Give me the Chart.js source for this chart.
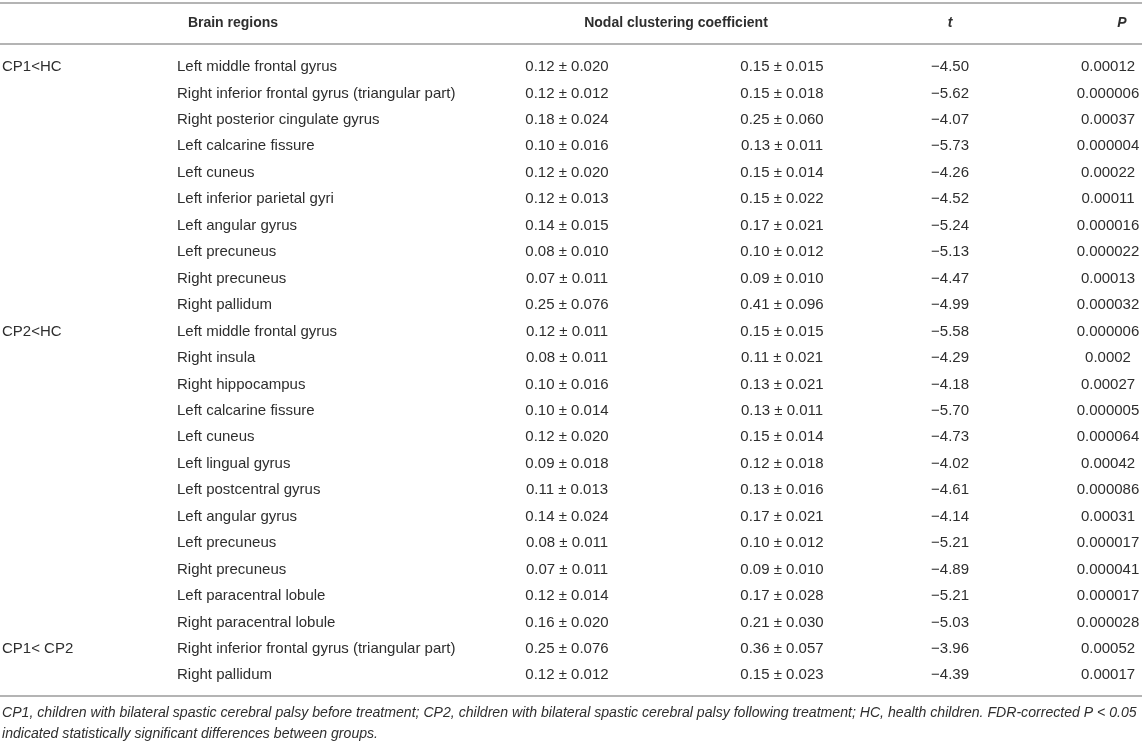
<!DOCTYPE html>
<html>
<head>
<meta charset="utf-8">
<script src="https://cdn.jsdelivr.net/npm/chart.js@4.4.1/dist/chart.umd.min.js"></script>
<style>
  html, body { margin: 0; padding: 0; background: #fff; }
  #wrap { width: 1142px; height: 743px; position: relative; }
</style>
</head>
<body>
<div id="wrap"><canvas id="tableChart"></canvas></div>
<script>
const groupLabels = ['CP1<HC', 'CP2<HC', 'CP1< CP2'];
const groupStartRows = [0, 10, 22];

const regions = [
    'Left middle frontal gyrus',
    'Right inferior frontal gyrus (triangular part)',
    'Right posterior cingulate gyrus',
    'Left calcarine fissure',
    'Left cuneus',
    'Left inferior parietal gyri',
    'Left angular gyrus',
    'Left precuneus',
    'Right precuneus',
    'Right pallidum',
    'Left middle frontal gyrus',
    'Right insula',
    'Right hippocampus',
    'Left calcarine fissure',
    'Left cuneus',
    'Left lingual gyrus',
    'Left postcentral gyrus',
    'Left angular gyrus',
    'Left precuneus',
    'Right precuneus',
    'Left paracentral lobule',
    'Right paracentral lobule',
    'Right inferior frontal gyrus (triangular part)',
    'Right pallidum'
];

const meanA = [0.12, 0.12, 0.18, 0.10, 0.12, 0.12, 0.14, 0.08, 0.07, 0.25,
               0.12, 0.08, 0.10, 0.10, 0.12, 0.09, 0.11, 0.14, 0.08, 0.07, 0.12, 0.16,
               0.25, 0.12];
const sdA = [0.020, 0.012, 0.024, 0.016, 0.020, 0.013, 0.015, 0.010, 0.011, 0.076,
             0.011, 0.011, 0.016, 0.014, 0.020, 0.018, 0.013, 0.024, 0.011, 0.011, 0.014, 0.020,
             0.076, 0.012];
const meanB = [0.15, 0.15, 0.25, 0.13, 0.15, 0.15, 0.17, 0.10, 0.09, 0.41,
               0.15, 0.11, 0.13, 0.13, 0.15, 0.12, 0.13, 0.17, 0.10, 0.09, 0.17, 0.21,
               0.36, 0.15];
const sdB = [0.015, 0.018, 0.060, 0.011, 0.014, 0.022, 0.021, 0.012, 0.010, 0.096,
             0.015, 0.021, 0.021, 0.011, 0.014, 0.018, 0.016, 0.021, 0.012, 0.010, 0.028, 0.030,
             0.057, 0.023];
const tValues = [-4.50, -5.62, -4.07, -5.73, -4.26, -4.52, -5.24, -5.13, -4.47, -4.99,
                 -5.58, -4.29, -4.18, -5.70, -4.73, -4.02, -4.61, -4.14, -5.21, -4.89, -5.21, -5.03,
                 -3.96, -4.39];
const pValues = [0.00012, 0.000006, 0.00037, 0.000004, 0.00022, 0.00011, 0.000016, 0.000022, 0.00013, 0.000032,
                 0.000006, 0.0002, 0.00027, 0.000005, 0.000064, 0.00042, 0.000086, 0.00031, 0.000017, 0.000041, 0.000017, 0.000028,
                 0.00052, 0.00017];

const headers = ['Brain regions', 'Nodal clustering coefficient', 't', 'P'];
const footnote = [
    'CP1, children with bilateral spastic cerebral palsy before treatment; CP2, children with bilateral spastic cerebral palsy following treatment; HC, health children. FDR-corrected P < 0.05',
    'indicated statistically significant differences between groups.'
];

// ---- layout (x in px, y in row units) ----
const colX = { group: 2, region: 177, a: 567, b: 782, t: 950, p: 1108 };
const headerX = [233, 676, 950, 1122];
const rowPitch = 26.45;
const firstRowPx = 67;
const toRow = px => (px - firstRowPx) / rowPitch;
const yTop = toRow(0);
const yBottom = toRow(743);
const headerRow = toRow(23.5);
const lineRows = [toRow(3), toRow(44), toRow(696)];
const footRows = [toRow(713), toRow(734)];

const TEXT = '#2e2e2e';
const FONT = '"Liberation Sans", Arial, Helvetica, sans-serif';

const minus = v => v.toFixed(2).replace('-', '\u2212');

function column(x, texts, align, rows) {
    return {
        data: texts.map((_, i) => ({ x: x, y: rows ? rows[i] : i })),
        cellText: texts,
        cellAlign: align,
        pointRadius: 0,
        pointHoverRadius: 0,
        showLine: false
    };
}

const datasets = [
    column(colX.group, groupLabels, 'left', groupStartRows),
    column(colX.region, regions, 'left'),
    column(colX.a, meanA.map((m, i) => m.toFixed(2) + ' \u00b1 ' + sdA[i].toFixed(3)), 'center'),
    column(colX.b, meanB.map((m, i) => m.toFixed(2) + ' \u00b1 ' + sdB[i].toFixed(3)), 'center'),
    column(colX.t, tValues.map(minus), 'center'),
    column(colX.p, pValues.map(v => String(v)), 'center')
];

const tablePlugin = {
    id: 'tablePlugin',
    afterDatasetsDraw(chart) {
        const ctx = chart.ctx;
        const xs = chart.scales.x;
        const ys = chart.scales.y;
        const left = chart.chartArea.left;
        const right = chart.chartArea.right;
        ctx.save();

        // rules
        ctx.strokeStyle = '#b4b4b4';
        ctx.lineWidth = 2;
        lineRows.forEach(r => {
            const y = Math.round(ys.getPixelForValue(r));
            ctx.beginPath();
            ctx.moveTo(left, y);
            ctx.lineTo(right, y);
            ctx.stroke();
        });

        // header
        ctx.fillStyle = TEXT;
        ctx.textBaseline = 'middle';
        ctx.textAlign = 'center';
        const hy = ys.getPixelForValue(headerRow);
        headers.forEach((h, i) => {
            const italic = (h === 't' || h === 'P') ? 'italic ' : '';
            ctx.font = italic + 'bold 14px ' + FONT;
            ctx.fillText(h, xs.getPixelForValue(headerX[i]), hy);
        });

        // cells
        ctx.font = '15px ' + FONT;
        chart.data.datasets.forEach((ds, i) => {
            const meta = chart.getDatasetMeta(i);
            ctx.textAlign = ds.cellAlign;
            meta.data.forEach((pt, j) => {
                ctx.fillText(ds.cellText[j], pt.x, pt.y);
            });
        });

        // footnote
        ctx.font = 'italic 14.1px ' + FONT;
        ctx.textAlign = 'left';
        footnote.forEach((line, i) => {
            ctx.fillText(line, xs.getPixelForValue(2), ys.getPixelForValue(footRows[i]));
        });
        ctx.restore();
    }
};

const ctx = document.getElementById('tableChart').getContext('2d');
const tableChart = new Chart(ctx, {
    type: 'scatter',
    data: { datasets: datasets },
    options: {
        responsive: true,
        maintainAspectRatio: false,
        animation: false,
        layout: { padding: 0 },
        plugins: { legend: { display: false }, tooltip: { enabled: false } },
        events: [],
        scales: {
            x: { type: 'linear', display: false, min: 0, max: 1142 },
            y: { type: 'linear', display: false, reverse: true, min: yTop, max: yBottom }
        }
    },
    plugins: [tablePlugin]
});
</script>
</body>
</html>
